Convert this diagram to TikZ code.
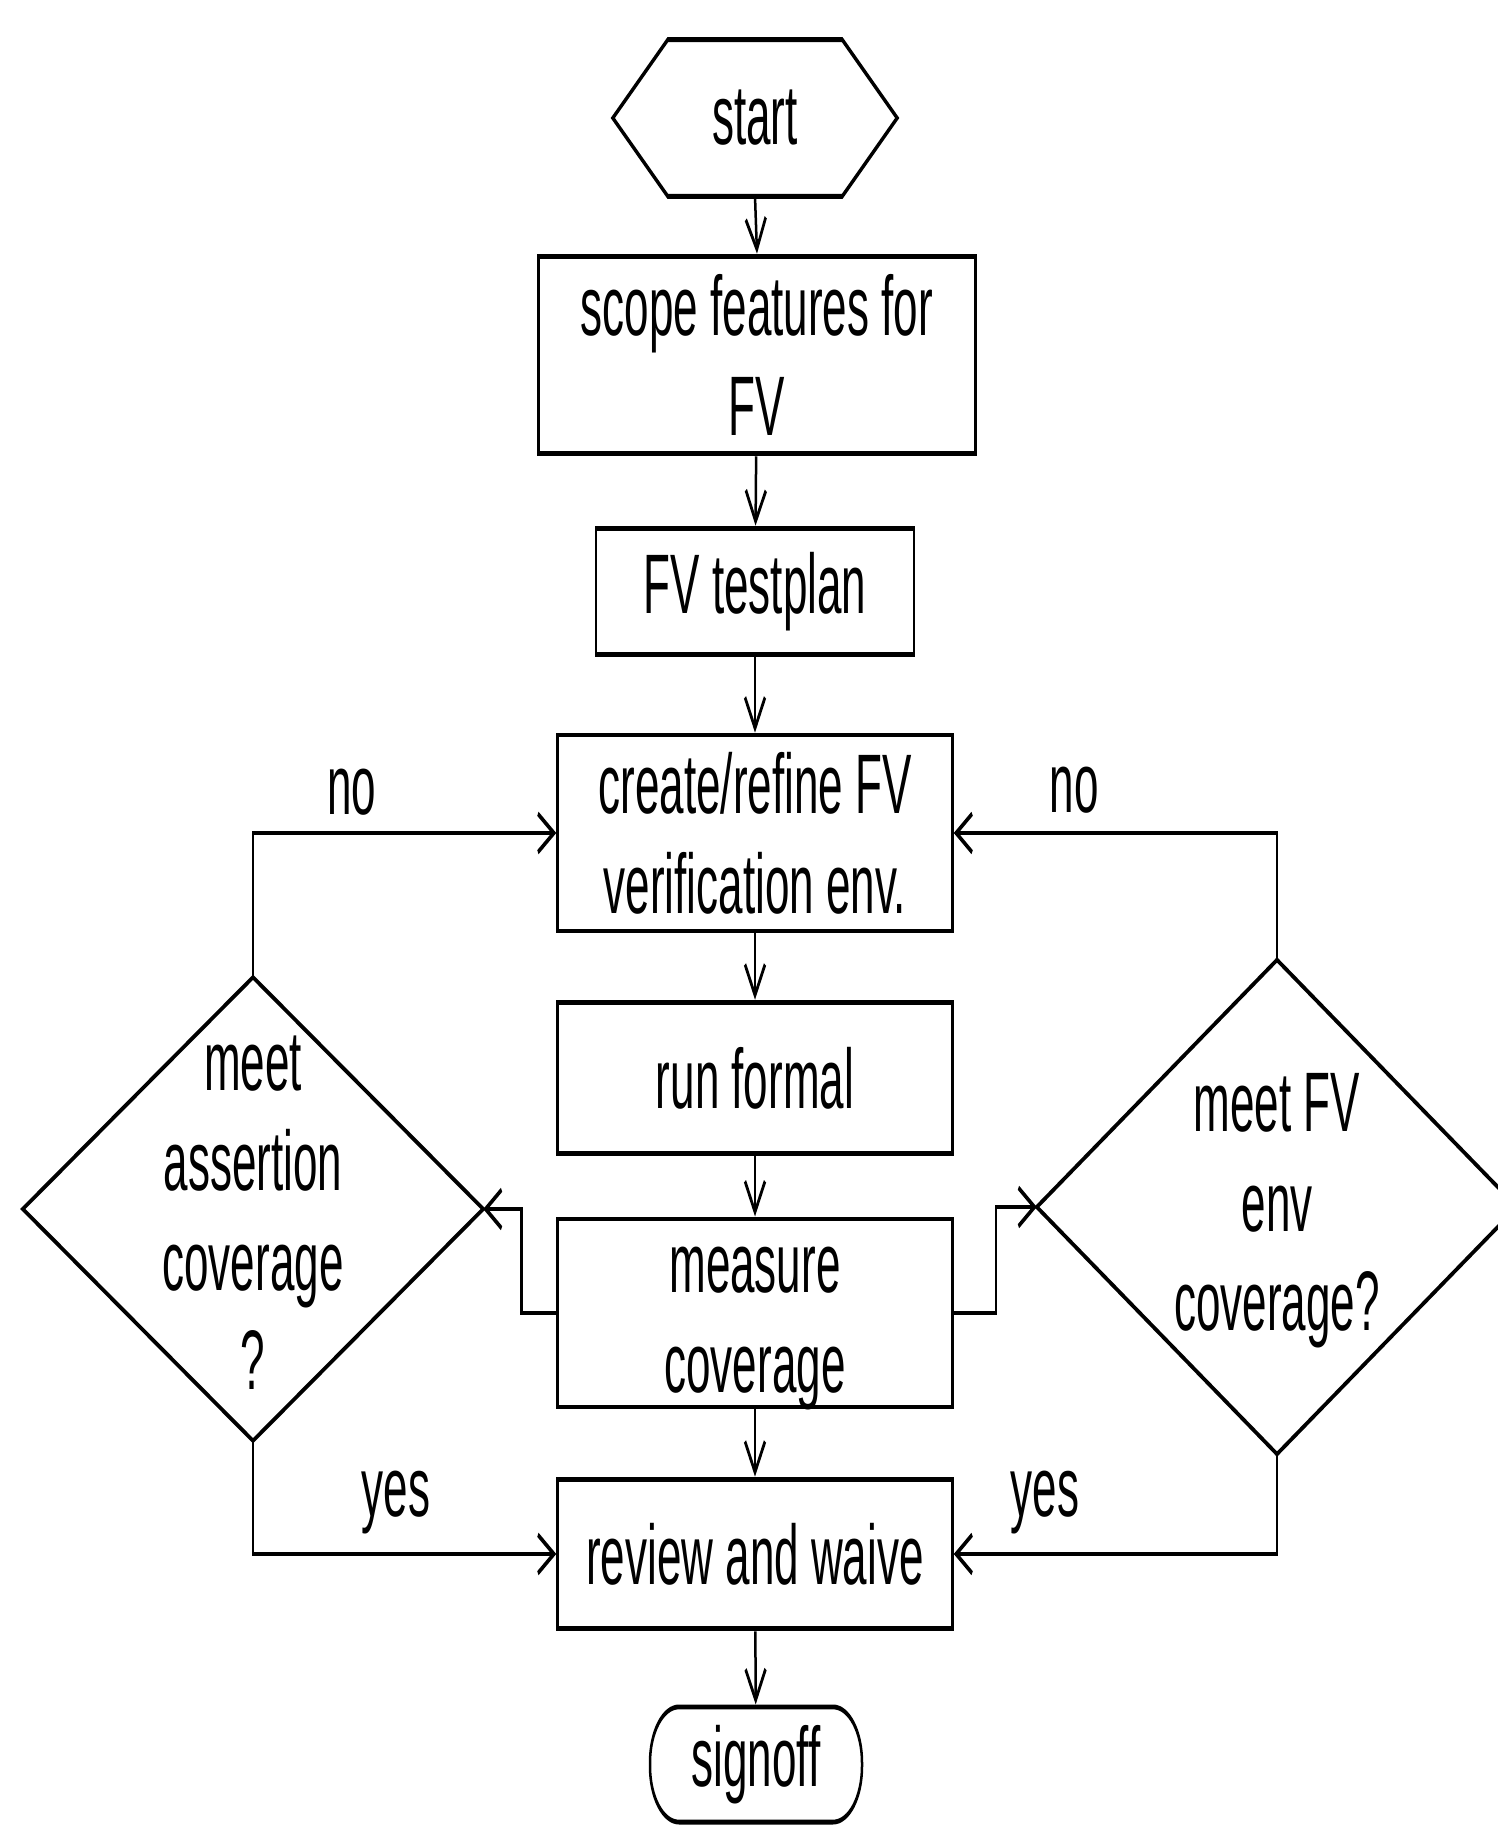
\documentclass[tikz,border=0pt]{standalone}
\usepackage{fontspec}
\setmainfont{Liberation Sans}
\usetikzlibrary{arrows.meta}

\begin{document}
\begin{tikzpicture}[x=1pt,y=-1pt]
\useasboundingbox (0,0) rectangle (1498,1826);
\fill[white] (0,0) rectangle (1498,1826);
\clip (0,0) rectangle (1498,1826);
% the whole chart is drawn in a vertically stretched canvas
\begin{scope}[transform canvas={yscale=1.92}, y=-0.520833pt,
  every node/.style={font=\fontsize{44}{52}\selectfont, inner sep=0pt, align=center},
  box/.style={draw, line width=2.5pt, minimum width=395pt},
  outline/.style={line width=2.5pt, line join=miter},
  flow/.style={line width=2.5pt, -{Straight Barb[length=16pt,width=20pt]}}]

  % terminal and process nodes
  \node[minimum width=284pt, minimum height=81.25pt] (start) at (755,118) {start};
  \draw[outline] (start.west) -- ([xshift=55pt]start.north west)
    -- ([xshift=-55pt]start.north east) -- (start.east)
    -- ([xshift=-55pt]start.south east) -- ([xshift=55pt]start.south west) -- cycle;

  \node[box, minimum width=437pt, minimum height=103pt] (scope) at (757,355) {scope features for\\FV};
  \node[box, minimum width=318pt, minimum height=66pt] (plan) at (755,591.5) {FV testplan};
  \node[box, minimum height=102pt] (env) at (755,833) {create/refine FV\\verification env.};
  \node[box, minimum height=79pt] (run) at (755,1078) {run formal};
  \node[box, minimum height=98pt,
        label={[yshift=-8pt]center:measure\\coverage}] (measure) at (755,1313) {};
  \node[box, minimum height=78pt] (review) at (755,1554) {review and waive};
  \node[draw, line width=2.5pt, rounded corners=29pt, minimum width=212pt,
        minimum height=60pt] (signoff) at (756,1764.5) {signoff};

  % decision nodes
  \node[minimum width=460pt, minimum height=241pt,
        label={[yshift=-2pt]center:meet\\assertion\\coverage\\?}] (asrt) at (253,1209) {};
  \draw[outline] (asrt.north) -- (asrt.east) -- (asrt.south) -- (asrt.west) -- cycle;
  \node[minimum width=480pt, minimum height=257pt,
        label={[yshift=-2pt]center:meet FV\\env\\coverage?}] (envq) at (1277,1207) {};
  \draw[outline] (envq.north) -- (envq.east) -- (envq.south) -- (envq.west) -- cycle;

  % main flow
  \draw[flow] (start.south) -- (scope.north);
  \draw[flow] (scope) -- (plan);
  \draw[flow] (plan) -- (env);
  \draw[flow] (env) -- (run);
  \draw[flow] (run) -- (measure);
  \draw[flow] (measure) -- (review);
  \draw[flow] (review) -- (signoff);

  % coverage checks
  \draw[flow] (measure.west) -- ++(-35,0) |- (asrt.east);
  \draw[flow] (measure.east) -- ++(42,0) |- (envq.west);
  \draw[flow] (asrt.north) |- (env.west);
  \draw[flow] (envq.north) |- (env.east);
  \draw[flow] (asrt.south) |- (review.west);
  \draw[flow] (envq.south) |- (review.east);

  % branch labels
  \node (noL) at (352,792) {no};
  \node (noR) at (1074,790) {no};
  \node (yesL) at (396,1503) {yes};
  \node (yesR) at (1045,1503) {yes};
\end{scope}
\end{tikzpicture}
\end{document}
